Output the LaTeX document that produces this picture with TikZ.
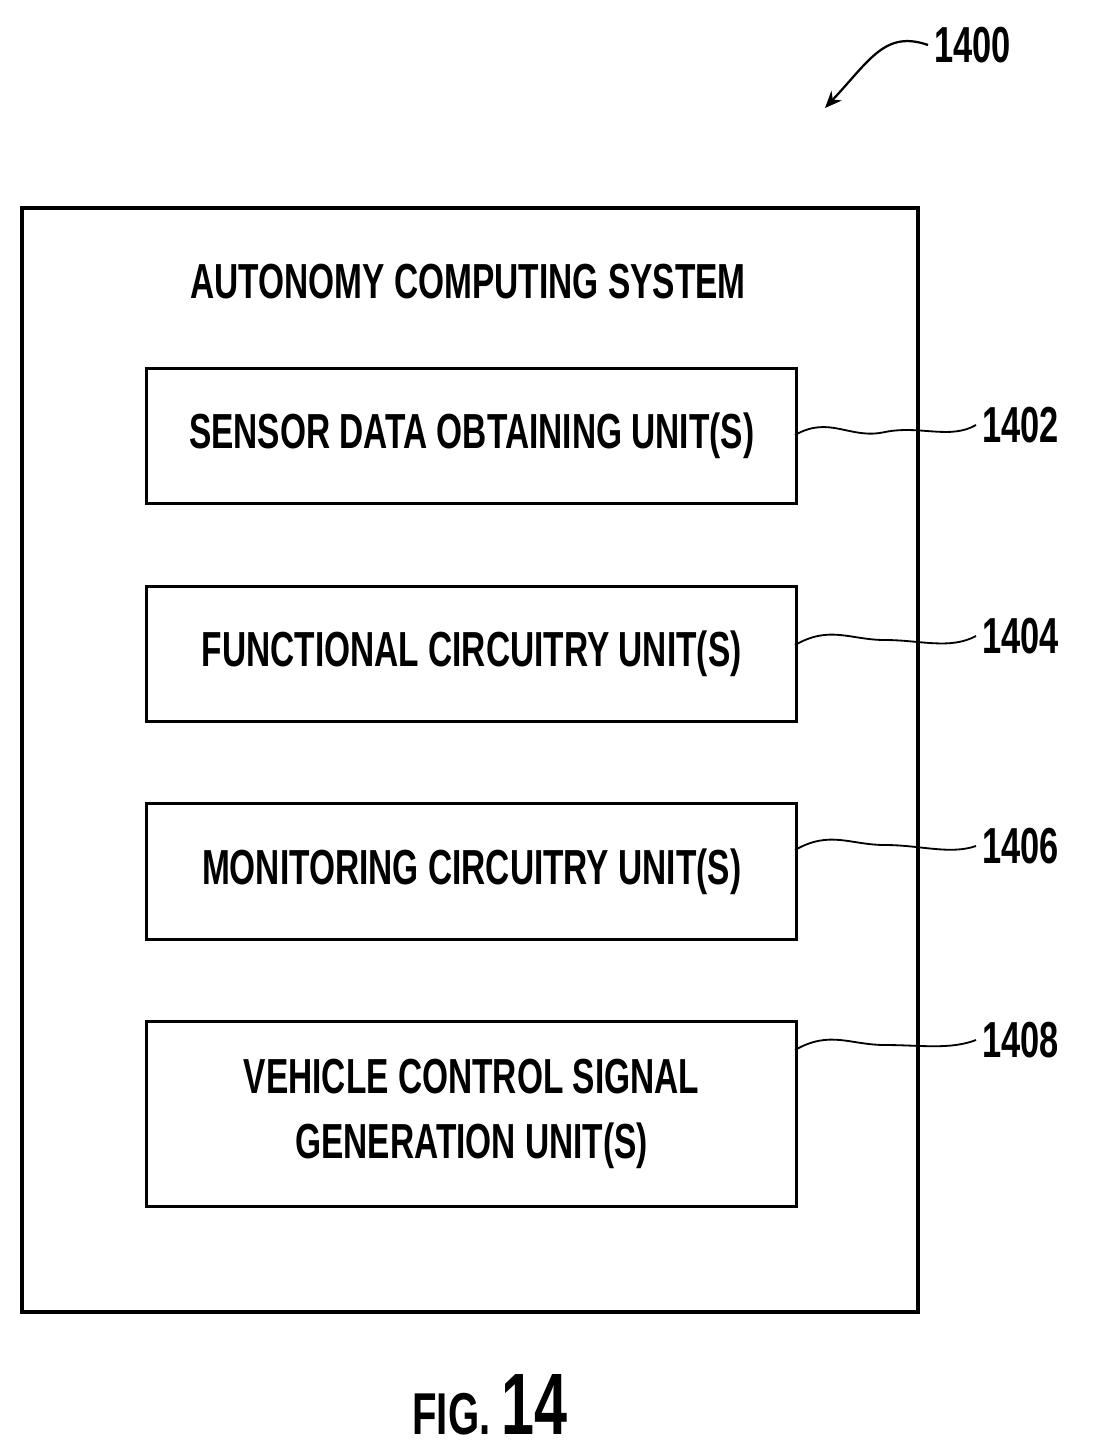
\documentclass[tikz,border=0pt]{standalone}
\usepackage{fontspec}
\setmainfont{Liberation Sans}[FakeStretch=0.68]
\usetikzlibrary{arrows.meta}
\begin{document}
\begin{tikzpicture}[x=0.025cm,y=-0.025cm,line width=2.2pt,
    unit/.style={draw,minimum width=16.25cm,anchor=north west,align=center,font=\bfseries\fontsize{35}{46}\selectfont},
    lbl/.style={font=\bfseries\fontsize{36}{40}\selectfont,anchor=west}]
  \useasboundingbox (0,0) rectangle (1094,1453);
  \draw (22,208) rectangle (918,1312);
  \node[font=\bfseries\fontsize{35}{40}\selectfont] (title) at (468,282) {AUTONOMY COMPUTING SYSTEM};

  \node[unit,minimum height=3.375cm] (u1) at (145,367) {SENSOR DATA OBTAINING UNIT(S)};
  \node[unit,minimum height=3.375cm] (u2) at (145,585) {FUNCTIONAL CIRCUITRY UNIT(S)};
  \node[unit,minimum height=3.4cm]   (u3) at (145,802) {MONITORING CIRCUITRY UNIT(S)};
  \node[unit,minimum height=4.625cm] (u4) at (145,1020) {VEHICLE CONTROL SIGNAL\\GENERATION UNIT(S)};

  \node[lbl] (l1) at (976,425) {1402};
  \node[lbl] (l2) at (976,636) {1404};
  \node[lbl] (l3) at (976,846) {1406};
  \node[lbl] (l4) at (976,1040) {1408};
  \draw[line width=1.3pt] (795,435) .. controls (830,415) and (850,440) .. (885,432) .. controls (920,425) and (950,440) .. (l1.west);
  \draw[line width=1.3pt] (795,645) .. controls (830,625) and (850,640) .. (885,640) .. controls (920,640) and (950,650) .. (l2.west);
  \draw[line width=1.3pt] (795,850) .. controls (830,830) and (850,845) .. (885,845) .. controls (920,845) and (950,855) .. (l3.west);
  \draw[line width=1.3pt] (795,1050) .. controls (830,1030) and (850,1045) .. (885,1045) .. controls (920,1045) and (950,1050) .. (l4.west);

  \node[lbl] (fig) at (928,45) {1400};
  \draw[line width=1.6pt,-{Stealth[length=12pt,width=10pt]}] (fig.west) .. controls (885,30) and (870,60) .. (825,108);

  \node[font=\bfseries\fontsize{42}{44}\selectfont] (caption) at (490,1405) {FIG. \fontsize{62}{64}\selectfont 14};
\end{tikzpicture}
\end{document}
